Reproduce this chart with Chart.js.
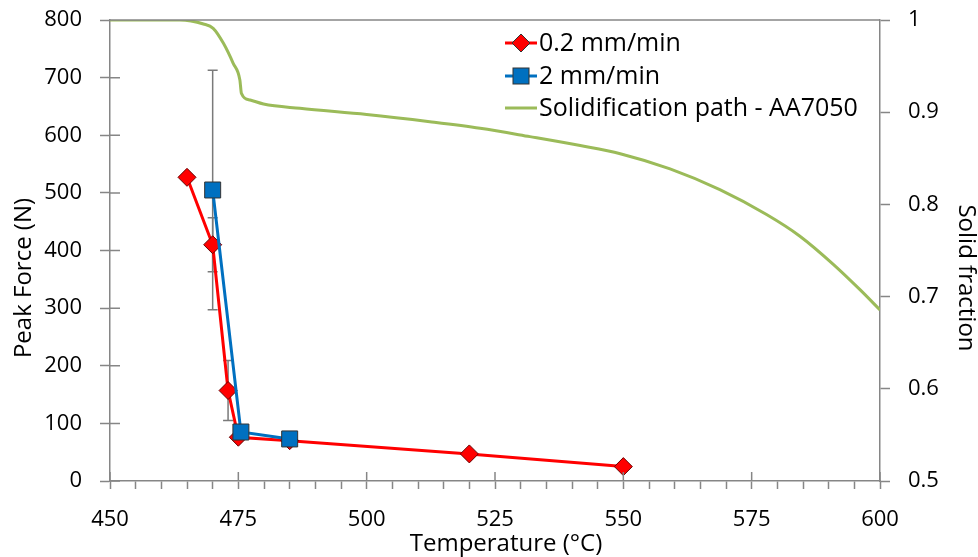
<!DOCTYPE html>
<html>
<head>
<meta charset="utf-8">
<script src="https://cdn.jsdelivr.net/npm/chart.js@4.4.0/dist/chart.umd.min.js"></script>
<style>
  html, body { margin: 0; padding: 0; background: #fff; }
</style>
</head>
<body>
<canvas id="forceChart" width="978" height="557"></canvas>
<script>
// 0.2 mm/min
const slowTemp = [465, 470, 473, 475, 485, 520, 550];
const slowForce = [527, 410, 157, 76, 70, 47, 25];
const slowErr = [0, 47, 52, 0, 0, 0, 0];

// 2 mm/min
const fastTemp = [470, 475.5, 485];
const fastForce = [505, 85, 73];
const fastErr = [208, 0, 12];

// solidification path (right axis)
const pathTemp = [450, 463.6, 468.2, 470.1, 472.1, 474, 475.3, 475.6, 477.3, 479.9, 487, 500, 512.3, 522.1,
  531.8, 541.6, 549.4, 559.1, 568.8, 577.9, 584.4, 590.9, 596.1, 600];
const pathFraction = [1, 1, 0.9957, 0.991, 0.9747, 0.953, 0.935, 0.9205, 0.9132, 0.9089, 0.9042, 0.8975, 0.8897, 0.8826,
  0.8735, 0.8638, 0.855, 0.8385, 0.816, 0.789, 0.7655, 0.735, 0.7075, 0.6855];

const tempTicks = [450, 475, 500, 525, 550, 575, 600];
const forceTicks = [0, 100, 200, 300, 400, 500, 600, 700, 800];
const fractionTicks = [0.5, 0.6, 0.7, 0.8, 0.9, 1];

const legendLabels = ['0.2 mm/min', '2 mm/min', 'Solidification path - AA7050'];

const RED = '#ff0000';
const BLUE = '#0070c0';
const GREEN = '#9bbb59';
const AXIS = '#868686';
const FONT = "'Open Sans', sans-serif";

const toPoints = (xs, ys) => xs.map((x, i) => ({ x: x, y: ys[i] }));
const noOverflow = s => { s.paddingTop = 0; s.paddingBottom = 0; s.paddingLeft = 0; s.paddingRight = 0; };

// error bars, inner tick marks, top border, legend, axis titles
const extras = {
  id: 'extras',
  beforeDatasetsDraw(chart) {
    const ctx = chart.ctx;
    const x = chart.scales.x, y = chart.scales.y;
    ctx.save();
    ctx.strokeStyle = '#7a7a7a';
    ctx.lineWidth = 1.5;
    const bars = (xs, ys, es) => {
      xs.forEach((t, i) => {
        if (!es[i]) return;
        const px = x.getPixelForValue(t);
        const top = y.getPixelForValue(ys[i] + es[i]);
        const bot = y.getPixelForValue(ys[i] - es[i]);
        ctx.beginPath();
        ctx.moveTo(px, top); ctx.lineTo(px, bot);
        ctx.moveTo(px - 5, top); ctx.lineTo(px + 5, top);
        ctx.moveTo(px - 5, bot); ctx.lineTo(px + 5, bot);
        ctx.stroke();
      });
    };
    bars(fastTemp, fastForce, fastErr);
    bars(slowTemp, slowForce, slowErr);
    ctx.restore();
  },
  afterDraw(chart) {
    const ctx = chart.ctx;
    const a = chart.chartArea;
    const x = chart.scales.x, y = chart.scales.y;
    ctx.save();
    ctx.strokeStyle = AXIS;
    ctx.lineWidth = 1.5;
    ctx.beginPath();
    ctx.moveTo(a.left, a.top); ctx.lineTo(a.right, a.top);
    tempTicks.forEach(t => {
      const px = x.getPixelForValue(t);
      ctx.moveTo(px, a.bottom); ctx.lineTo(px, a.bottom - 9);
    });
    forceTicks.forEach(f => {
      const py = y.getPixelForValue(f);
      ctx.moveTo(a.left, py); ctx.lineTo(a.left + 10, py);
    });
    ctx.stroke();

    // legend
    const rows = [43, 76, 108];
    const lx = 505, lw = 32;
    ctx.lineWidth = 3;
    [RED, BLUE, GREEN].forEach((c, i) => {
      ctx.strokeStyle = c;
      ctx.beginPath();
      ctx.moveTo(lx, rows[i]); ctx.lineTo(lx + lw, rows[i]);
      ctx.stroke();
    });
    const cx = lx + lw / 2;
    ctx.lineWidth = 1;
    ctx.strokeStyle = '#333';
    ctx.fillStyle = RED;
    ctx.beginPath();
    ctx.moveTo(cx, rows[0] - 9); ctx.lineTo(cx + 9, rows[0]);
    ctx.lineTo(cx, rows[0] + 9); ctx.lineTo(cx - 9, rows[0]);
    ctx.closePath(); ctx.fill(); ctx.stroke();
    ctx.fillStyle = BLUE;
    ctx.fillRect(cx - 8, rows[1] - 8, 16, 16);
    ctx.strokeRect(cx - 8, rows[1] - 8, 16, 16);

    ctx.fillStyle = '#000';
    ctx.font = '25px ' + FONT;
    ctx.textAlign = 'left';
    ctx.textBaseline = 'middle';
    legendLabels.forEach((t, i) => ctx.fillText(t, lx + lw + 2, rows[i] + 1));

    // axis titles
    ctx.font = '24px ' + FONT;
    ctx.textAlign = 'center';
    ctx.fillText('Temperature (°C)', 506, 544);
    ctx.save();
    ctx.translate(24, 278);
    ctx.rotate(-Math.PI / 2);
    ctx.fillText('Peak Force (N)', 0, 0);
    ctx.restore();
    ctx.save();
    ctx.translate(966, 278);
    ctx.rotate(Math.PI / 2);
    ctx.fillText('Solid fraction', 0, 0);
    ctx.restore();
    ctx.restore();
  }
};

new Chart(document.getElementById('forceChart'), {
  type: 'scatter',
  data: {
    datasets: [
      {
        label: legendLabels[1],
        data: toPoints(fastTemp, fastForce),
        yAxisID: 'y',
        showLine: true,
        borderColor: BLUE,
        borderWidth: 3,
        pointStyle: 'rect',
        pointRadius: 11.3,
        pointBackgroundColor: BLUE,
        pointBorderColor: '#333',
        pointBorderWidth: 1,
        order: 0
      },
      {
        label: legendLabels[0],
        data: toPoints(slowTemp, slowForce),
        yAxisID: 'y',
        showLine: true,
        borderColor: RED,
        borderWidth: 3,
        pointStyle: 'rectRot',
        pointRadius: 9,
        pointBackgroundColor: RED,
        pointBorderColor: '#600',
        pointBorderWidth: 1,
        order: 1
      },
      {
        label: legendLabels[2],
        data: toPoints(pathTemp, pathFraction),
        yAxisID: 'y2',
        showLine: true,
        borderColor: GREEN,
        borderWidth: 3,
        pointRadius: 0,
        cubicInterpolationMode: 'monotone',
        order: 2
      }
    ]
  },
  options: {
    responsive: false,
    animation: false,
    devicePixelRatio: 1,
    layout: { padding: { top: 20, left: 0, right: 0, bottom: 0 } },
    plugins: { legend: { display: false }, tooltip: { enabled: false } },
    scales: {
      x: {
        type: 'linear',
        min: 450,
        max: 600,
        afterFit: s => { noOverflow(s); s.height = 76; },
        ticks: {
          stepSize: 5,
          autoSkip: false,
          maxRotation: 0,
          padding: 18,
          color: '#000',
          font: { family: FONT, size: 22 },
          callback: v => tempTicks.includes(v) ? String(v) : ''
        },
        grid: { drawOnChartArea: false, tickLength: 8, color: AXIS, tickWidth: 1.5 },
        border: { color: AXIS, width: 1.5 }
      },
      y: {
        position: 'left',
        min: 0,
        max: 800,
        afterFit: s => { noOverflow(s); s.width = 110; },
        afterBuildTicks: s => { s.ticks = forceTicks.map(v => ({ value: v })); },
        ticks: { padding: 18, color: '#000', font: { family: FONT, size: 22 } },
        grid: { drawOnChartArea: false, tickLength: 10, color: AXIS, tickWidth: 1.5 },
        border: { color: AXIS, width: 1.5 }
      },
      y2: {
        position: 'right',
        min: 0.5,
        max: 1,
        afterFit: s => { noOverflow(s); s.width = 98; },
        afterBuildTicks: s => { s.ticks = fractionTicks.map(v => ({ value: v })); },
        ticks: {
          padding: 18,
          color: '#000',
          font: { family: FONT, size: 22 },
          callback: v => String(v)
        },
        grid: { drawOnChartArea: false, tickLength: 10, color: AXIS, tickWidth: 1.5 },
        border: { color: AXIS, width: 1.5 }
      }
    }
  },
  plugins: [extras]
});
</script>
</body>
</html>
